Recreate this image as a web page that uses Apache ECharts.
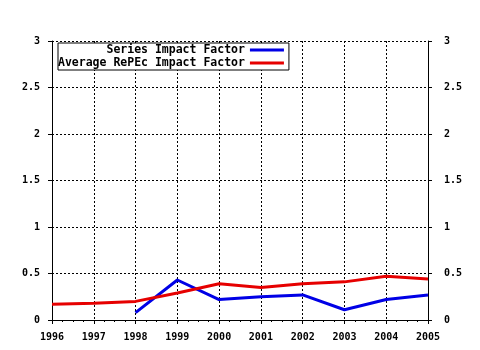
<!DOCTYPE html>
<html>
<head>
<meta charset="utf-8">
<script src="https://cdn.jsdelivr.net/npm/echarts@6/dist/echarts.min.js"></script>
<style>
  html, body { margin: 0; padding: 0; background: #fff; }
  #chart { width: 480px; height: 350px; }
</style>
</head>
<body>
<div id="chart"></div>
<script>
// data
var years = [1996, 1997, 1998, 1999, 2000, 2001, 2002, 2003, 2004, 2005];
var seriesImpact = [null, null, 0.08, 0.43, 0.22, 0.25, 0.27, 0.11, 0.22, 0.27];
var repecImpact = [0.17, 0.18, 0.20, 0.29, 0.39, 0.35, 0.39, 0.41, 0.47, 0.44];
var seriesNames = ['       Series Impact Factor', 'Average RePEc Impact Factor'];

var chart = echarts.init(document.getElementById('chart'));

function pairs(vals) {
    var out = [];
    for (var i = 0; i < years.length; i++) {
        out.push([years[i], vals[i] === null ? '-' : vals[i]]);
    }
    return out;
}

var tickFont = { color: '#000', fontFamily: 'DejaVu Sans Mono', fontWeight: 'bold', fontSize: 10 };
var dotted = { show: true, lineStyle: { color: '#000', type: [2, 2], width: 1 } };

var option = {
    animation: false,
    backgroundColor: '#fff',
    grid: { left: 52, right: 52, top: 41, bottom: 30 },
    legend: {
        orient: 'vertical',
        left: 58,
        top: 43,
        align: 'right',
        backgroundColor: '#fff',
        borderColor: '#000',
        borderWidth: 1,
        padding: [1, 5, 1, 0],
        itemGap: 1,
        itemWidth: 34,
        itemHeight: 3,
        icon: 'rect',
        selectedMode: false,
        textStyle: { color: '#000', fontFamily: 'DejaVu Sans Mono', fontWeight: 'bold', fontSize: 11.5 },
        data: seriesNames
    },
    xAxis: [{
        type: 'value',
        min: 1996,
        max: 2005,
        interval: 1,
        position: 'bottom',
        axisLine: { show: true, lineStyle: { color: '#000', width: 1 } },
        axisTick: { show: true, length: 4, lineStyle: { color: '#000' } },
        minorTick: { show: true, splitNumber: 4, length: 2, lineStyle: { color: '#000' } },
        axisLabel: Object.assign({ margin: 12, formatter: function (v) { return String(v); } }, tickFont),
        splitLine: dotted
    }, {
        type: 'value',
        min: 1996,
        max: 2005,
        interval: 1,
        position: 'top',
        axisLine: { show: true, lineStyle: { color: '#000', width: 1 } },
        axisTick: { show: true, inside: true, length: 4, lineStyle: { color: '#000' } },
        minorTick: { show: true, splitNumber: 4, length: 2, lineStyle: { color: '#000' } },
        axisLabel: { show: false },
        splitLine: { show: false }
    }],
    yAxis: [{
        type: 'value',
        min: 0,
        max: 3,
        interval: 0.5,
        position: 'left',
        axisLine: { show: true, lineStyle: { color: '#000', width: 1 } },
        axisTick: { show: true, length: 4, lineStyle: { color: '#000' } },
        axisLabel: Object.assign({ margin: 12 }, tickFont),
        splitLine: dotted
    }, {
        type: 'value',
        min: 0,
        max: 3,
        interval: 0.5,
        position: 'right',
        axisLine: { show: true, lineStyle: { color: '#000', width: 1 } },
        axisTick: { show: true, length: 4, lineStyle: { color: '#000' } },
        axisLabel: Object.assign({ margin: 16 }, tickFont),
        splitLine: { show: false }
    }],
    series: [{
        name: seriesNames[0],
        type: 'line',
        data: pairs(seriesImpact),
        showSymbol: false,
        symbol: 'none',
        color: '#0000e6',
        lineStyle: { width: 3, color: '#0000e6' }
    }, {
        name: seriesNames[1],
        type: 'line',
        data: pairs(repecImpact),
        showSymbol: false,
        symbol: 'none',
        color: '#e60000',
        lineStyle: { width: 3, color: '#e60000' }
    }]
};

chart.setOption(option);
</script>
</body>
</html>
